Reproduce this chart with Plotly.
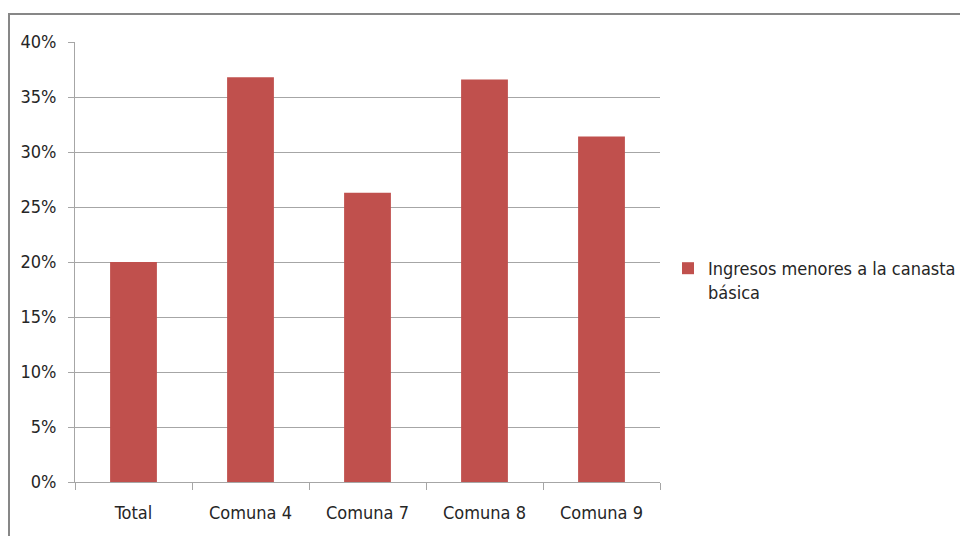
import plotly.graph_objects as go

# Share of households whose income falls below the basic basket
categories = ["Total", "Comuna 4", "Comuna 7", "Comuna 8", "Comuna 9"]
values = [0.20, 0.368, 0.263, 0.366, 0.314]
series_name = "Ingresos menores a la canasta<br>básica"
y_ticks = [0, 0.05, 0.10, 0.15, 0.20, 0.25, 0.30, 0.35, 0.40]
y_tick_labels = ["0%", "5%", "10%", "15%", "20%", "25%", "30%", "35%", "40%"]

BAR_COLOR = "#C0504D"
GRID_COLOR = "#A6A6A6"
TEXT_COLOR = "#262626"
FONT = "DejaVu Sans Condensed, Liberation Sans Narrow, sans-serif"
FS = 18

fig = go.Figure(
    go.Bar(
        x=categories,
        y=values,
        name=series_name,
        marker=dict(color=BAR_COLOR, line=dict(width=0)),
        showlegend=True,
    )
)

W, H = 960, 536
ml, mr, mt, mb = 75, 300, 42, 54
pw = W - ml - mr
ph = H - mt - mb

# outer chart frame (runs off the right and bottom edges)
fx0 = (9 - ml) / pw
fx1 = (975 - ml) / pw
fy1 = 1 + (mt - 14) / ph
fy0 = -(H + 10 - (H - mb)) / ph

fig.add_shape(
    type="rect", xref="paper", yref="paper",
    x0=fx0, x1=fx1, y0=fy0, y1=fy1,
    line=dict(color="#878787", width=2), fillcolor="rgba(0,0,0,0)",
    layer="below",
)

fig.update_layout(
    width=W, height=H,
    margin=dict(l=ml, r=mr, t=mt, b=mb, autoexpand=False),
    paper_bgcolor="white", plot_bgcolor="white",
    bargap=0.6,
    font=dict(family=FONT, size=FS, color=TEXT_COLOR),
    legend=dict(
        x=(668 - ml) / pw, y=1 - (280 - mt) / ph, xanchor="left", yanchor="middle",
        valign="top", font=dict(size=FS, color=TEXT_COLOR),
        bgcolor="rgba(0,0,0,0)", itemwidth=30, tracegroupgap=0,
    ),
    xaxis=dict(
        showgrid=False, showline=True, linecolor=GRID_COLOR, linewidth=1,
        ticks="outside", tickson="boundaries", ticklen=7, tickcolor=GRID_COLOR,
        tickfont=dict(size=FS, color=TEXT_COLOR), zeroline=False,
        ticklabelstandoff=14,
    ),
    yaxis=dict(
        range=[0, 0.40], tickvals=y_ticks, ticktext=y_tick_labels,
        showgrid=True, gridcolor=GRID_COLOR, gridwidth=1,
        showline=True, linecolor=GRID_COLOR, linewidth=1,
        ticks="outside", ticklen=6, tickcolor=GRID_COLOR,
        tickfont=dict(size=FS, color=TEXT_COLOR), zeroline=False,
        ticklabelstandoff=8,
    ),
)

fig.write_html("out.html")
